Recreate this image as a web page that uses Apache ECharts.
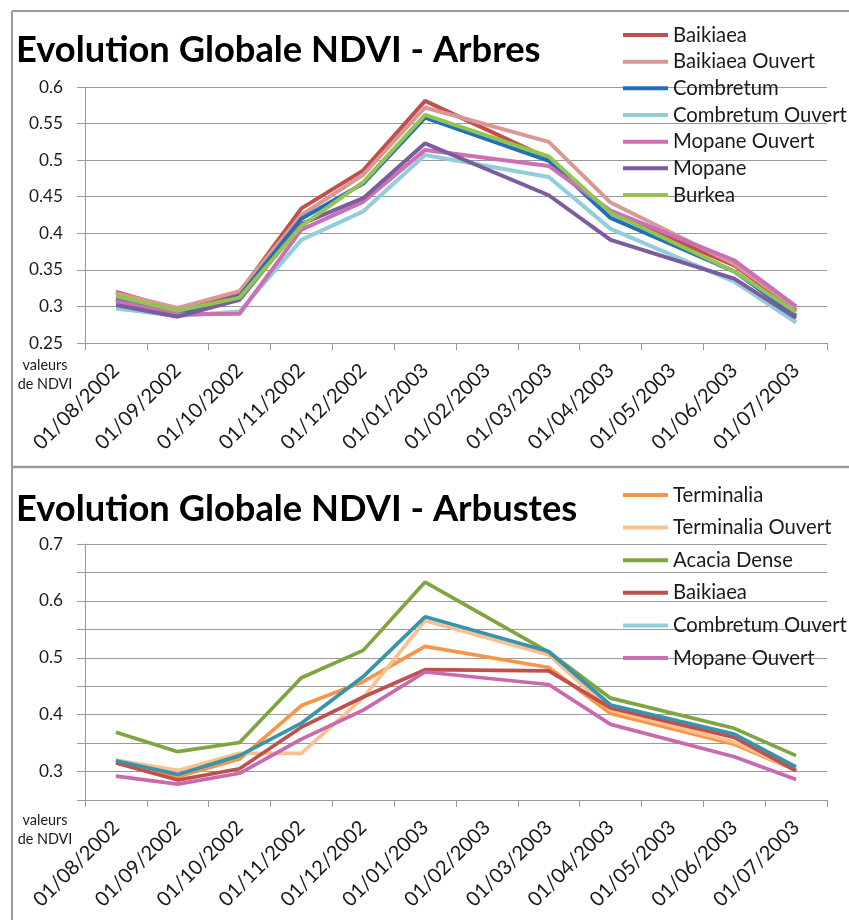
<!DOCTYPE html>
<html>
<head>
<meta charset="utf-8">
<script src="https://cdn.jsdelivr.net/npm/echarts@6/dist/echarts.min.js"></script>
<style>
  html, body { margin: 0; padding: 0; background: #ffffff; }
  #chart { width: 849px; height: 920px; }
</style>
</head>
<body>
<div id="chart"></div>
<script>
// Monthly dates on the horizontal axis
const dates = ['01/08/2002', '01/09/2002', '01/10/2002', '01/11/2002', '01/12/2002', '01/01/2003',
               '01/02/2003', '01/03/2003', '01/04/2003', '01/05/2003', '01/06/2003', '01/07/2003'];

// Trees (Arbres) — NDVI per date, null where no acquisition
const arbresBaikiaea        = [0.320, 0.296, 0.319, 0.434, 0.486, 0.581, null, 0.502, 0.428, null, 0.356, 0.295];
const arbresBaikiaeaOuvert  = [0.318, 0.298, 0.321, 0.425, 0.480, 0.572, null, 0.525, 0.442, null, 0.358, 0.298];
const arbresCombretum       = [0.310, 0.290, 0.314, 0.420, 0.468, 0.558, null, 0.499, 0.421, null, 0.348, 0.287];
const arbresCombretumOuvert = [0.297, 0.287, 0.293, 0.391, 0.430, 0.507, null, 0.477, 0.406, null, 0.334, 0.278];
const arbresMopaneOuvert    = [0.307, 0.289, 0.290, 0.405, 0.443, 0.514, null, 0.492, 0.431, null, 0.363, 0.300];
const arbresMopane          = [0.302, 0.286, 0.309, 0.413, 0.448, 0.523, null, 0.452, 0.391, null, 0.338, 0.284];
const arbresBurkea          = [0.314, 0.294, 0.312, 0.410, 0.470, 0.562, null, 0.505, 0.428, null, 0.348, 0.292];

// Shrubs (Arbustes)
const arbustesTerminalia       = [0.320, 0.291, 0.322, 0.416, 0.458, 0.520, null, 0.483, 0.402, null, 0.348, 0.302];
const arbustesTerminaliaOuvert = [0.320, 0.302, 0.332, 0.332, 0.430, 0.565, null, 0.505, 0.408, null, 0.352, 0.302];
const arbustesAcaciaDense      = [0.369, 0.335, 0.351, 0.465, 0.513, 0.633, null, 0.510, 0.429, null, 0.376, 0.328];
const arbustesBaikiaea         = [0.315, 0.285, 0.305, 0.378, 0.431, 0.479, null, 0.477, 0.412, null, 0.360, 0.301];
const arbustesCombretumOuvert  = [0.319, 0.295, 0.328, 0.385, 0.467, 0.572, null, 0.511, 0.417, null, 0.366, 0.308];
const arbustesMopaneOuvert     = [0.292, 0.278, 0.297, 0.357, 0.408, 0.475, null, 0.453, 0.383, null, 0.326, 0.286];

const arbresNames   = ['Baikiaea', 'Baikiaea Ouvert', 'Combretum', 'Combretum Ouvert', 'Mopane Ouvert', 'Mopane', 'Burkea'];
const arbustesNames = ['Terminalia', 'Terminalia Ouvert', 'Acacia Dense', 'Baikiaea', 'Combretum Ouvert', 'Mopane Ouvert'];
const arbresValues   = [arbresBaikiaea, arbresBaikiaeaOuvert, arbresCombretum, arbresCombretumOuvert, arbresMopaneOuvert, arbresMopane, arbresBurkea];
const arbustesValues = [arbustesTerminalia, arbustesTerminaliaOuvert, arbustesAcaciaDense, arbustesBaikiaea, arbustesCombretumOuvert, arbustesMopaneOuvert];

const arbresColors   = ['#C0504D', '#D99795', '#1F70B8', '#92CDDC', '#CC6FB4', '#7B5C9E', '#92C353'];
const arbustesColors = ['#F79646', '#FAC08F', '#7EA53F', '#C0504D', '#3A93AA', '#C86AAE'];

const FONT = 'Lato';
const measureCtx = document.createElement('canvas').getContext('2d');
function fitSize(text, weight, target) {
  measureCtx.font = weight + ' 100px ' + FONT;
  return Math.round(1000 * target / measureCtx.measureText(text).width) / 10;
}
const titleSize  = fitSize('Evolution Globale NDVI - Arbres', 'bold', 525);
const legendSize = fitSize('Combretum Ouvert', 'normal', 174);
const yLabelSize = fitSize('0.55', 'normal', 34);
const xLabelSize = fitSize('01/08/2002', 'normal', 112);
const noteSize   = fitSize('valeurs', 'normal', 45);

const gridColor = '#999999';
const textColor = '#1a1a1a';

function xAxis(gridIndex) {
  return {
    type: 'category', gridIndex, data: dates, boundaryGap: true,
    axisLine: { lineStyle: { color: gridColor, width: 1 } },
    axisTick: { show: true, interval: 0, length: 7, lineStyle: { color: gridColor } },
    axisLabel: {
      interval: 0, rotate: 45, margin: 24, color: textColor,
      fontFamily: FONT, fontSize: xLabelSize, verticalAlign: 'middle'
    },
    splitLine: { show: false }
  };
}
function yAxis(gridIndex, max, everyOther) {
  return {
    type: 'value', gridIndex, min: 0.25, max, interval: 0.05,
    axisLine: { show: true, lineStyle: { color: gridColor, width: 1 } },
    axisTick: { show: true, length: 8, lineStyle: { color: gridColor } },
    axisLabel: {
      margin: 22, color: textColor, fontFamily: FONT, fontSize: yLabelSize,
      formatter: v => {
        const r = Math.round(v * 100);
        if (everyOther) return (r % 10 === 0 && r > 25) ? String(r / 100) : '';
        return String(r / 100);
      }
    },
    splitLine: { show: true, lineStyle: { color: gridColor, width: 1 } }
  };
}
function legend(names, top, gap) {
  return {
    orient: 'vertical', left: 623, top, data: names, padding: 0,
    icon: 'rect', itemWidth: 45, itemHeight: 4, itemGap: gap,
    textStyle: { color: textColor, fontFamily: FONT, fontSize: legendSize, lineHeight: 20, padding: [0, 0, 0, 0] }
  };
}
function lines(names, values, colors, idx, width) {
  return names.map((n, i) => ({
    name: n, type: 'line', xAxisIndex: idx, yAxisIndex: idx,
    data: values[i], connectNulls: true, showSymbol: false, symbol: 'none',
    lineStyle: { color: colors[i], width },
    itemStyle: { color: colors[i] },
    emphasis: { disabled: true }, animation: false
  }));
}

const chart = echarts.init(document.getElementById('chart'), null, { renderer: 'canvas' });
chart.setOption({
  animation: false,
  grid: [
    { left: 85, top: 87, width: 742, height: 256 },
    { left: 85, top: 544, width: 742, height: 256 }
  ],
  xAxis: [xAxis(0), xAxis(1)],
  yAxis: [yAxis(0, 0.6, false), yAxis(1, 0.7, true)],
  legend: [legend(arbresNames, 25, 6.67), legend(arbustesNames, 485, 12.6)],
  series: [
    ...lines(arbresNames, arbresValues, arbresColors, 0, 4),
    ...lines(arbustesNames, arbustesValues, arbustesColors, 1, 3.7)
  ],
  graphic: [
    // panel frames
    { type: 'line', shape: { x1: 12, y1: 11, x2: 849, y2: 11 }, style: { stroke: '#9a9a9a', lineWidth: 2 } },
    { type: 'line', shape: { x1: 12, y1: 11, x2: 12, y2: 920 }, style: { stroke: '#9a9a9a', lineWidth: 2 } },
    { type: 'line', shape: { x1: 12, y1: 467, x2: 849, y2: 467 }, style: { stroke: '#9a9a9a', lineWidth: 2.5 } },
    // titles
    { type: 'text', left: 16, top: 55 - titleSize * 0.62, style: { text: 'Evolution Globale NDVI - Arbres', fill: '#000', font: 'bold ' + titleSize + 'px ' + FONT } },
    { type: 'text', left: 16, top: 514 - titleSize * 0.62, style: { text: 'Evolution Globale NDVI - Arbustes', fill: '#000', font: 'bold ' + titleSize + 'px ' + FONT } },
    // axis notes
    { type: 'text', x: 45, y: 375, style: { text: 'valeurs\nde NDVI', fill: textColor, font: noteSize + 'px ' + FONT, align: 'center', verticalAlign: 'middle', lineHeight: 19 } },
    { type: 'text', x: 45, y: 830, style: { text: 'valeurs\nde NDVI', fill: textColor, font: noteSize + 'px ' + FONT, align: 'center', verticalAlign: 'middle', lineHeight: 19 } }
  ]
});
</script>
</body>
</html>
